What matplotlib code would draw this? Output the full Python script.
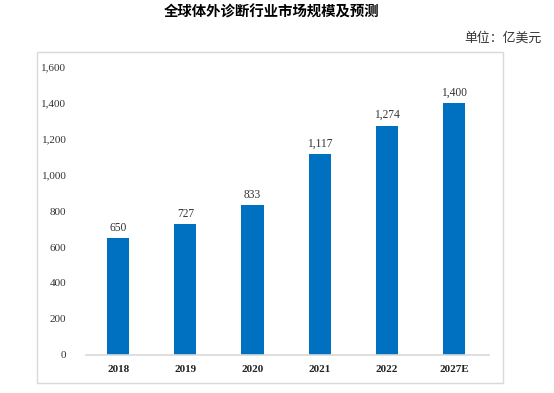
import matplotlib.pyplot as plt
from matplotlib.patches import Rectangle

# 数据
years = ['2018', '2019', '2020', '2021', '2022', '2027E']
values = [650, 727, 833, 1117, 1274, 1400]
y_ticks = [0, 200, 400, 600, 800, 1000, 1200, 1400, 1600]

serif = ['Liberation Serif', 'DejaVu Serif']
cjk = ['Noto Sans CJK SC', 'DejaVu Sans']

fig = plt.figure(figsize=(5.54, 3.93), dpi=100)

# 外框
fig.patches.append(Rectangle((0.0668, 0.0254), 0.841, 0.842, transform=fig.transFigure,
                             fill=False, edgecolor='#d9d9d9', linewidth=1.0))

ax = fig.add_axes([0.155, 0.0967, 0.728, 0.7328])
x = range(len(years))
ax.bar(x, values, width=0.33, color='#0070c0')

for xi, v in zip(x, values):
    ax.text(xi, v + 25, f'{v:,}', ha='center', va='bottom', fontsize=8.3, family=serif, color='#333333')

ax.set_xlim(-0.48, 5.52)
ax.set_ylim(0, 1600)
ax.set_yticks(y_ticks)
ax.set_yticklabels([f'{t:,}' for t in y_ticks], family=serif, fontsize=8, color='#333333')
ax.set_xticks(list(x))
ax.set_xticklabels(years, family=serif, fontsize=8, fontweight='bold', color='#222222')
ax.tick_params(axis='both', length=0)
ax.tick_params(axis='y', pad=14)
ax.tick_params(axis='x', pad=7)

for s in ['top', 'right', 'left']:
    ax.spines[s].set_visible(False)
ax.spines['bottom'].set_color('#d9d9d9')
ax.spines['bottom'].set_linewidth(1.2)

fig.text(0.49, 0.968, '全球体外诊断行业市场规模及预测', ha='center', va='center',
         fontsize=10.4, fontweight='bold', family=cjk)
fig.text(0.978, 0.903, '单位：亿美元', ha='right', va='center', fontsize=9.3, family=cjk, color='#333333')

plt.savefig('out.png', dpi=100)
